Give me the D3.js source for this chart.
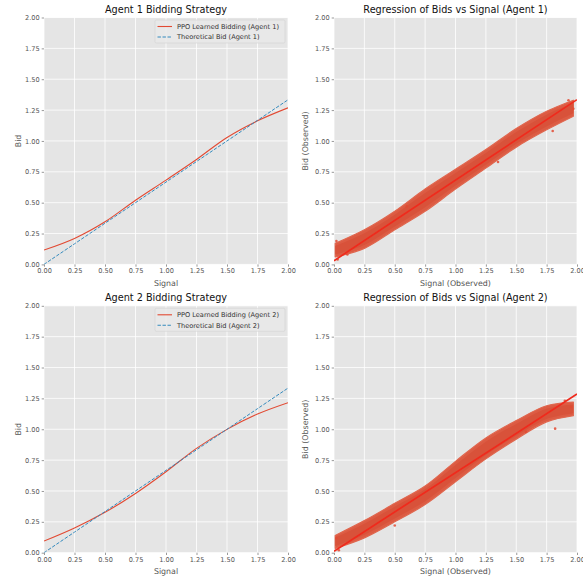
<!DOCTYPE html>
<html>
<head>
<meta charset="utf-8">
<script src="https://cdn.jsdelivr.net/npm/d3@7/dist/d3.min.js"></script>
<style>
  html, body { margin: 0; padding: 0; background: #ffffff; }
  svg { display: block; font-family: "DejaVu Sans", sans-serif; }
</style>
</head>
<body>
<svg id="chart" width="583" height="579"></svg>
<script>
// ---------- data ----------
const tickValues = [0, 0.25, 0.5, 0.75, 1.0, 1.25, 1.5, 1.75, 2.0];

// learned bidding curves
const signalGrid = [0, 0.25, 0.5, 0.75, 1.0, 1.25, 1.5, 1.75, 2.0];
const ppoAgent1 = [0.116, 0.21, 0.345, 0.52, 0.683, 0.85, 1.028, 1.163, 1.268];
const ppoAgent2 = [0.094, 0.20, 0.327, 0.48, 0.656, 0.845, 0.999, 1.123, 1.215];
const theoAgent1 = [0, 0.1667, 0.3333, 0.5, 0.6667, 0.8333, 1.0, 1.1667, 1.3333];
const theoAgent2 = [0, 0.1667, 0.3333, 0.5, 0.6667, 0.8333, 1.0, 1.1667, 1.3333];

// observed scatter clouds (extent of the dense point cloud)
const cloudSignal = [0.01, 0.25, 0.5, 0.75, 1.0, 1.25, 1.5, 1.75, 1.97];
const cloudLowAgent1 = [0.06, 0.13, 0.28, 0.43, 0.61, 0.78, 0.95, 1.09, 1.20];
const cloudHighAgent1 = [0.17, 0.28, 0.43, 0.61, 0.77, 0.93, 1.10, 1.24, 1.33];
const cloudLowAgent2 = [0.035, 0.12, 0.25, 0.39, 0.575, 0.76, 0.92, 1.06, 1.11];
const cloudHighAgent2 = [0.14, 0.26, 0.40, 0.54, 0.74, 0.93, 1.07, 1.19, 1.22];
// a few stray points outside the dense cloud
const strayAgent1 = [[0.02, 0.19], [0.03, 0.04], [0.11, 0.08], [1.80, 1.08], [1.97, 1.26], [1.93, 1.33], [0.6, 0.47], [1.35, 0.83]];
const strayAgent2 = [[0.02, 0.12], [0.04, 0.02], [1.82, 1.005], [1.95, 1.18], [1.9, 1.23], [0.5, 0.22], [1.58, 0.98]];

// fitted regression lines: [signal, bid] at both ends
const regAgent1 = [[0, 0.03], [2, 1.335]];
const regAgent2 = [[0, 0.012], [2, 1.285]];

// ---------- drawing ----------
const svg = d3.select("#chart");
const BG = "#E5E5E5", RED = "#E24A33", BLUE = "#348ABD", TXT = "#555555";

const panels = [
  { x0: 44, x1: 288, y0: 17.5, y1: 264.4, title: "Agent 1 Bidding Strategy", xl: "Signal", yl: "Bid", ylx: 18, type: "line",
    ppo: ppoAgent1, theo: theoAgent1, lab1: "PPO Learned Bidding (Agent 1)", lab2: "Theoretical Bid (Agent 1)" },
  { x0: 334, x1: 577, y0: 17.5, y1: 264.4, title: "Regression of Bids vs Signal (Agent 1)", xl: "Signal (Observed)", yl: "Bid (Observed)", ylx: 305, type: "scatter",
    low: cloudLowAgent1, high: cloudHighAgent1, stray: strayAgent1, reg: regAgent1 },
  { x0: 44, x1: 288, y0: 305.8, y1: 552.7, title: "Agent 2 Bidding Strategy", xl: "Signal", yl: "Bid", ylx: 18, type: "line",
    ppo: ppoAgent2, theo: theoAgent2, lab1: "PPO Learned Bidding (Agent 2)", lab2: "Theoretical Bid (Agent 2)" },
  { x0: 334, x1: 577, y0: 305.8, y1: 552.7, title: "Regression of Bids vs Signal (Agent 2)", xl: "Signal (Observed)", yl: "Bid (Observed)", ylx: 305, type: "scatter",
    low: cloudLowAgent2, high: cloudHighAgent2, stray: strayAgent2, reg: regAgent2 }
];

panels.forEach(p => {
  const x = d3.scaleLinear().domain([0, 2]).range([p.x0, p.x1]);
  const y = d3.scaleLinear().domain([0, 2]).range([p.y1, p.y0]);
  const g = svg.append("g");
  const clipId = "clip" + Math.round(p.x0) + "_" + Math.round(p.y0);
  svg.append("clipPath").attr("id", clipId).append("rect")
    .attr("x", p.x0).attr("y", p.y0).attr("width", p.x1 - p.x0).attr("height", p.y1 - p.y0);

  g.append("rect").attr("x", p.x0).attr("y", p.y0).attr("width", p.x1 - p.x0).attr("height", p.y1 - p.y0).attr("fill", BG);

  // grid
  g.selectAll(".gx").data(tickValues).enter().append("line")
    .attr("x1", d => x(d)).attr("x2", d => x(d)).attr("y1", p.y0).attr("y2", p.y1)
    .attr("stroke", "#ffffff").attr("stroke-width", 0.8);
  g.selectAll(".gy").data(tickValues).enter().append("line")
    .attr("y1", d => y(d)).attr("y2", d => y(d)).attr("x1", p.x0).attr("x2", p.x1)
    .attr("stroke", "#ffffff").attr("stroke-width", 0.8);

  // axes
  const xAxis = d3.axisBottom(x).tickValues(tickValues).tickFormat(d3.format(".2f")).tickSize(2.3).tickPadding(2);
  const yAxis = d3.axisLeft(y).tickValues(tickValues).tickFormat(d3.format(".2f")).tickSize(2.3).tickPadding(2);
  const gx = g.append("g").attr("transform", `translate(0,${p.y1})`).call(xAxis);
  const gy = g.append("g").attr("transform", `translate(${p.x0},0)`).call(yAxis);
  [gx, gy].forEach(a => {
    a.select(".domain").remove();
    a.selectAll(".tick line").attr("stroke", TXT).attr("stroke-width", 0.6);
    a.selectAll(".tick text").attr("fill", TXT).style("font-size", "6.6px").style("font-family", "DejaVu Sans");
  });

  // titles & labels
  g.append("text").attr("x", (p.x0 + p.x1) / 2).attr("y", p.y0 - 4.5).attr("text-anchor", "middle")
    .style("font-size", "9.7px").attr("fill", "#111").text(p.title);
  g.append("text").attr("x", (p.x0 + p.x1) / 2).attr("y", p.y1 + 21.5).attr("text-anchor", "middle")
    .style("font-size", "7.9px").attr("fill", TXT).text(p.xl);
  g.append("text").attr("transform", `translate(${p.ylx + 2.8},${(p.y0 + p.y1) / 2}) rotate(-90)`).attr("text-anchor", "middle")
    .style("font-size", "7.9px").attr("fill", TXT).text(p.yl);

  const plot = g.append("g").attr("clip-path", `url(#${clipId})`);

  if (p.type === "line") {
    const ppoLine = d3.line().x((d, i) => x(signalGrid[i])).y(d => y(d)).curve(d3.curveCatmullRom);
    plot.append("path").datum(p.ppo).attr("d", ppoLine).attr("fill", "none").attr("stroke", RED).attr("stroke-width", 1.1);
    plot.append("path").datum(p.theo).attr("d", ppoLine).attr("fill", "none").attr("stroke", BLUE)
      .attr("stroke-width", 1.0).attr("stroke-dasharray", "3.4,1.6");

    // legend
    const lx = p.x0 + 111, ly = p.y0 + 2.5, lw = 130, lh = 23;
    g.append("rect").attr("x", lx).attr("y", ly).attr("width", lw).attr("height", lh)
      .attr("fill", "#e8e8e8").attr("fill-opacity", 0.8).attr("stroke", "#d2d2d2").attr("stroke-width", 0.6).attr("rx", 1.5);
    const items = [[p.lab1, RED, null], [p.lab2, BLUE, "3.4,1.6"]];
    items.forEach((it, i) => {
      const yy = ly + 6.5 + i * 10.5;
      const ln = g.append("line").attr("x1", lx + 2.5).attr("x2", lx + 17).attr("y1", yy).attr("y2", yy)
        .attr("stroke", it[1]).attr("stroke-width", 1.1);
      if (it[2]) ln.attr("stroke-dasharray", it[2]);
      g.append("text").attr("x", lx + 22).attr("y", yy + 2.4).style("font-size", "6.6px").attr("fill", "#333").text(it[0]);
    });
  } else {
    const outer = d3.area().x((d, i) => x(cloudSignal[i])).y0((d, i) => y(p.low[i])).y1((d, i) => y(p.high[i])).curve(d3.curveCatmullRom);
    plot.append("path").datum(p.low).attr("d", outer).attr("fill", "#dc5b43")
      .attr("stroke", "#e0674f").attr("stroke-width", 1.2).attr("stroke-linejoin", "round");
    const inner = d3.area().x((d, i) => x(cloudSignal[i]))
      .y0((d, i) => y(p.low[i] + (p.high[i] - p.low[i]) * 0.18))
      .y1((d, i) => y(p.high[i] - (p.high[i] - p.low[i]) * 0.18)).curve(d3.curveCatmullRom);
    plot.append("path").datum(p.low).attr("d", inner).attr("fill", "#d8523a");
    plot.selectAll(".stray").data(p.stray).enter().append("circle")
      .attr("cx", d => x(d[0])).attr("cy", d => y(d[1])).attr("r", 1.3).attr("fill", RED).attr("fill-opacity", 0.85);
    plot.append("line").attr("x1", x(p.reg[0][0])).attr("y1", y(p.reg[0][1])).attr("x2", x(p.reg[1][0])).attr("y2", y(p.reg[1][1]))
      .attr("stroke", "#f02a1c").attr("stroke-width", 1.7);
  }
});
</script>
</body>
</html>
